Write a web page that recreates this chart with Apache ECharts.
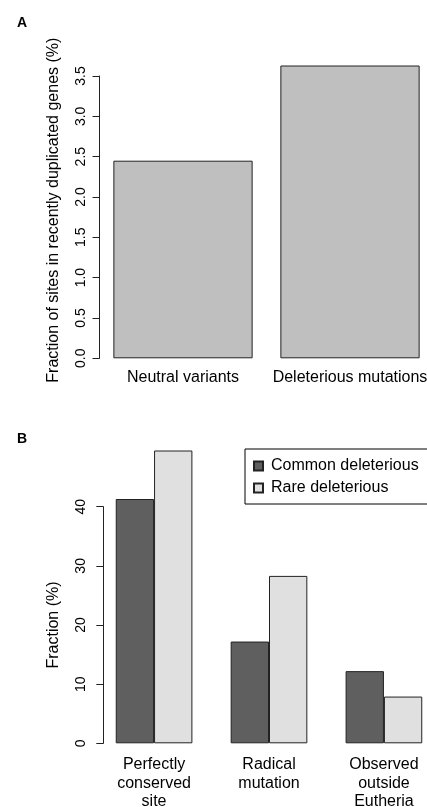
<!DOCTYPE html>
<html>
<head>
<meta charset="utf-8">
<script src="https://cdn.jsdelivr.net/npm/echarts@6/dist/echarts.min.js"></script>
<style>
html,body{margin:0;padding:0;background:#fff;}
#chart{width:427px;height:807px;}
</style>
</head>
<body>
<div id="chart"></div>
<script>
var categoriesA = ['Neutral variants', 'Deleterious mutations'];
var valuesA = [2.45, 3.63];
var categoriesB = ['Perfectly\nconserved\nsite', 'Radical\nmutation', 'Observed\noutside\nEutheria'];
var commonDeleterious = [41.3, 17.2, 12.2];
var rareDeleterious = [49.5, 28.3, 7.9];

var FONT = 'Liberation Sans';
var chart = echarts.init(document.getElementById('chart'));
chart.setOption({
  backgroundColor: '#fff',
  animation: false,
  textStyle: {fontFamily: FONT, color: '#000'},
  title: [
    {text: 'A', left: 12, top: 11, textStyle: {fontFamily: FONT, fontWeight: 'bold', fontSize: 14, color: '#000'}},
    {text: 'B', left: 12, top: 427, textStyle: {fontFamily: FONT, fontWeight: 'bold', fontSize: 14, color: '#000'}}
  ],
  legend: {
    data: ['Common deleterious', 'Rare deleterious'],
    orient: 'vertical',
    left: 245,
    top: 449,
    padding: [8, 40, 7, 8],
    itemGap: 4,
    itemWidth: 9,
    itemHeight: 9,
    icon: 'rect',
    borderColor: '#000',
    borderWidth: 1,
    textStyle: {fontFamily: FONT, fontSize: 16, color: '#000', lineHeight: 18, padding: [0, 0, 0, 3]}
  },
  grid: [
    {left: 99.5, width: 334, top: 76, height: 282.3, outerBoundsMode: 'none', containLabel: false},
    {left: 96.6, width: 344.8, top: 506.7, height: 236.6, outerBoundsMode: 'none', containLabel: false}
  ],
  xAxis: [
    {type: 'category', gridIndex: 0, data: categoriesA,
     axisLine: {show: false}, axisTick: {show: false},
     axisLabel: {fontFamily: FONT, fontSize: 16, color: '#000', margin: 11, interval: 0}},
    {type: 'category', gridIndex: 1, data: categoriesB,
     axisLine: {show: false}, axisTick: {show: false},
     axisLabel: {fontFamily: FONT, fontSize: 16, color: '#000', margin: 12.5, lineHeight: 18.5, interval: 0}}
  ],
  yAxis: [
    {type: 'value', gridIndex: 0, min: 0, max: 3.5, interval: 0.5,
     name: 'Fraction of sites in recently duplicated genes (%)',
     nameLocation: 'middle', nameRotate: 90, nameGap: 38,
     nameTextStyle: {fontFamily: FONT, fontSize: 16, color: '#000', padding: [0, 0, 0, 14]},
     splitLine: {show: false},
     axisLine: {show: true, lineStyle: {color: '#222', width: 1}},
     axisTick: {show: true, length: 7, lineStyle: {color: '#222'}},
     axisLabel: {rotate: 90, fontFamily: FONT, fontSize: 14, color: '#000', margin: 11,
       formatter: function (v) { return v.toFixed(1); }}},
    {type: 'value', gridIndex: 1, min: 0, max: 40, interval: 10, offset: -6.7,
     name: 'Fraction (%)',
     nameLocation: 'middle', nameRotate: 90, nameGap: 42,
     nameTextStyle: {fontFamily: FONT, fontSize: 16, color: '#000'},
     splitLine: {show: false},
     axisLine: {show: true, lineStyle: {color: '#222', width: 1}},
     axisTick: {show: true, length: 7, lineStyle: {color: '#222'}},
     axisLabel: {rotate: 90, fontFamily: FONT, fontSize: 14, color: '#000', margin: 15}}
  ],
  series: [
    {type: 'bar', xAxisIndex: 0, yAxisIndex: 0, data: valuesA, clip: false,
     barCategoryGap: '16.6%',
     itemStyle: {color: '#bfbfbf', borderColor: '#222', borderWidth: 1}},
    {type: 'bar', name: 'Common deleterious', xAxisIndex: 1, yAxisIndex: 1, data: commonDeleterious, clip: false,
     barGap: '0%', barCategoryGap: '33.3%',
     itemStyle: {color: '#5f5f5f', borderColor: '#222', borderWidth: 1}},
    {type: 'bar', name: 'Rare deleterious', xAxisIndex: 1, yAxisIndex: 1, data: rareDeleterious, clip: false,
     barGap: '0%', barCategoryGap: '33.3%',
     itemStyle: {color: '#e0e0e0', borderColor: '#222', borderWidth: 1}}
  ]
});
</script>
</body>
</html>
